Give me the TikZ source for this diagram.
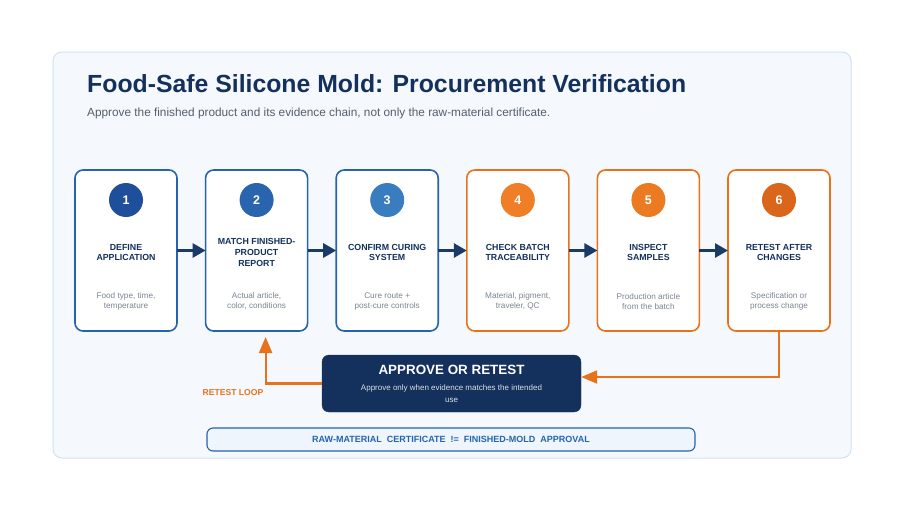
\documentclass[tikz,border=0pt]{standalone}
\usepackage{fontspec}
\setmainfont{Liberation Sans}
\usetikzlibrary{positioning, arrows.meta, calc}
\definecolor{navy}{HTML}{14305C}
\definecolor{arrownavy}{HTML}{1B3A66}
\definecolor{stepblue}{HTML}{2563AE}
\definecolor{steporange}{HTML}{E8721C}
\definecolor{numA}{HTML}{1F4E9A}
\definecolor{numB}{HTML}{2A64AE}
\definecolor{numC}{HTML}{3A7CC0}
\definecolor{numD}{HTML}{F07E26}
\definecolor{numE}{HTML}{EC7A22}
\definecolor{numF}{HTML}{D9661A}
\definecolor{panelfill}{HTML}{F5F9FD}
\definecolor{panelline}{HTML}{D3E2F0}
\definecolor{greytext}{HTML}{555E6A}
\definecolor{desctext}{HTML}{7C8594}
\definecolor{barfill}{HTML}{EEF5FC}

\begin{document}
\begin{tikzpicture}[
    x=1pt, y=-1pt,
    node distance=28.6pt,
    panel/.style={rectangle, rounded corners=9pt, draw=panelline, line width=1pt, fill=panelfill, minimum width=798pt, minimum height=406pt},
    stepbox/.style={rectangle, rounded corners=8pt, line width=1.6pt, fill=white, minimum width=102pt, minimum height=161pt, outer sep=0pt},
    num/.style={circle, minimum size=34pt, inner sep=0pt, outer sep=0pt, text=white, font=\fontsize{12.5}{14}\selectfont\bfseries},
    steptitle/.style={align=center, inner sep=0pt, text=navy, font=\fontsize{8.8}{10.8}\selectfont\bfseries},
    stepdesc/.style={align=center, inner sep=0pt, text=desctext, font=\fontsize{8.2}{10}\selectfont},
    flow/.style={line width=2.8pt, draw=arrownavy, -{Triangle[length=13pt,width=14pt]}},
    retest/.style={line width=2.1pt, draw=steporange, -{Triangle[length=16pt,width=13pt]}},
    decision/.style={rectangle, rounded corners=7pt, fill=navy, draw=arrownavy, minimum width=259pt, minimum height=57pt, align=center, text=white}
]
    \useasboundingbox (0,0) rectangle (900,507);
    \fill[white] (0,0) rectangle (900,507);
    \node (panel) [panel] at (452,255) {};

    \node (title) [anchor=west, inner sep=0pt, text=navy, font=\fontsize{24.8}{28}\selectfont\bfseries] at (87,84) {Food-Safe Silicone Mold: Procurement Verification};
    \node (subtitle) [anchor=west, inner sep=0pt, text=greytext, font=\fontsize{11.8}{13}\selectfont] at (87,113) {Approve the finished product and its evidence chain, not only the raw-material certificate.};

    \node (s1) [stepbox, draw=stepblue] at (126,250.5) {};
    \node (s2) [stepbox, draw=stepblue, right=of s1] {};
    \node (s3) [stepbox, draw=stepblue, right=of s2] {};
    \node (s4) [stepbox, draw=steporange, right=of s3] {};
    \node (s5) [stepbox, draw=steporange, right=of s4] {};
    \node (s6) [stepbox, draw=steporange, right=of s5] {};

    \node (n1) [num, fill=numA, below=13pt of s1.north] {1};
    \node (n2) [num, fill=numB, below=13pt of s2.north] {2};
    \node (n3) [num, fill=numC, below=13pt of s3.north] {3};
    \node (n4) [num, fill=numD, below=13pt of s4.north] {4};
    \node (n5) [num, fill=numE, below=13pt of s5.north] {5};
    \node (n6) [num, fill=numF, below=13pt of s6.north] {6};

    \node (t1) [steptitle] at ($(s1.center)+(0,2)$) {DEFINE\\APPLICATION};
    \node (t2) [steptitle] at ($(s2.center)+(0,2)$) {MATCH FINISHED-\\PRODUCT\\REPORT};
    \node (t3) [steptitle] at ($(s3.center)+(0,2)$) {CONFIRM CURING\\SYSTEM};
    \node (t4) [steptitle] at ($(s4.center)+(0,2)$) {CHECK BATCH\\TRACEABILITY};
    \node (t5) [steptitle] at ($(s5.center)+(0,2)$) {INSPECT\\SAMPLES};
    \node (t6) [steptitle] at ($(s6.center)+(0,2)$) {RETEST AFTER\\CHANGES};

    \node (d1) [stepdesc, above=21pt of s1.south] {Food type, time,\\temperature};
    \node (d2) [stepdesc, above=21pt of s2.south] {Actual article,\\color, conditions};
    \node (d3) [stepdesc, above=21pt of s3.south] {Cure route +\\post-cure controls};
    \node (d4) [stepdesc, above=21pt of s4.south] {Material, pigment,\\traveler, QC};
    \node (d5) [stepdesc, above=21pt of s5.south] {Production article\\from the batch};
    \node (d6) [stepdesc, above=21pt of s6.south] {Specification or\\process change};

    \draw [flow] (s1) -- (s2);
    \draw [flow] (s2) -- (s3);
    \draw [flow] (s3) -- (s4);
    \draw [flow] (s4) -- (s5);
    \draw [flow] (s5) -- (s6);

    \node (approve) [decision] at (451.5,383.5) {{\fontsize{13.4}{15}\selectfont\bfseries APPROVE OR RETEST}\\[4pt]{\fontsize{8}{10}\selectfont\color{white!85!navy}Approve only when evidence matches the intended}\\{\fontsize{8}{10}\selectfont\color{white!85!navy}use}};

    \draw [retest] (s6.south) |- ([yshift=6.5pt]approve.east);
    \draw [retest] (approve.west) -| ([xshift=9pt,yshift=-6pt]s2.south);
    \node (looplabel) [inner sep=0pt, text=steporange, font=\fontsize{8.6}{10}\selectfont\bfseries] at (233,393) {RETEST LOOP};

    \node (bar) [rectangle, rounded corners=6pt, draw=stepblue, line width=1.1pt, fill=barfill, minimum width=488pt, minimum height=23pt, text=stepblue, font=\fontsize{9}{10}\selectfont\bfseries] at (451,439.5) {RAW-MATERIAL~~CERTIFICATE~~!=~~FINISHED-MOLD~~APPROVAL};
\end{tikzpicture}
\end{document}
